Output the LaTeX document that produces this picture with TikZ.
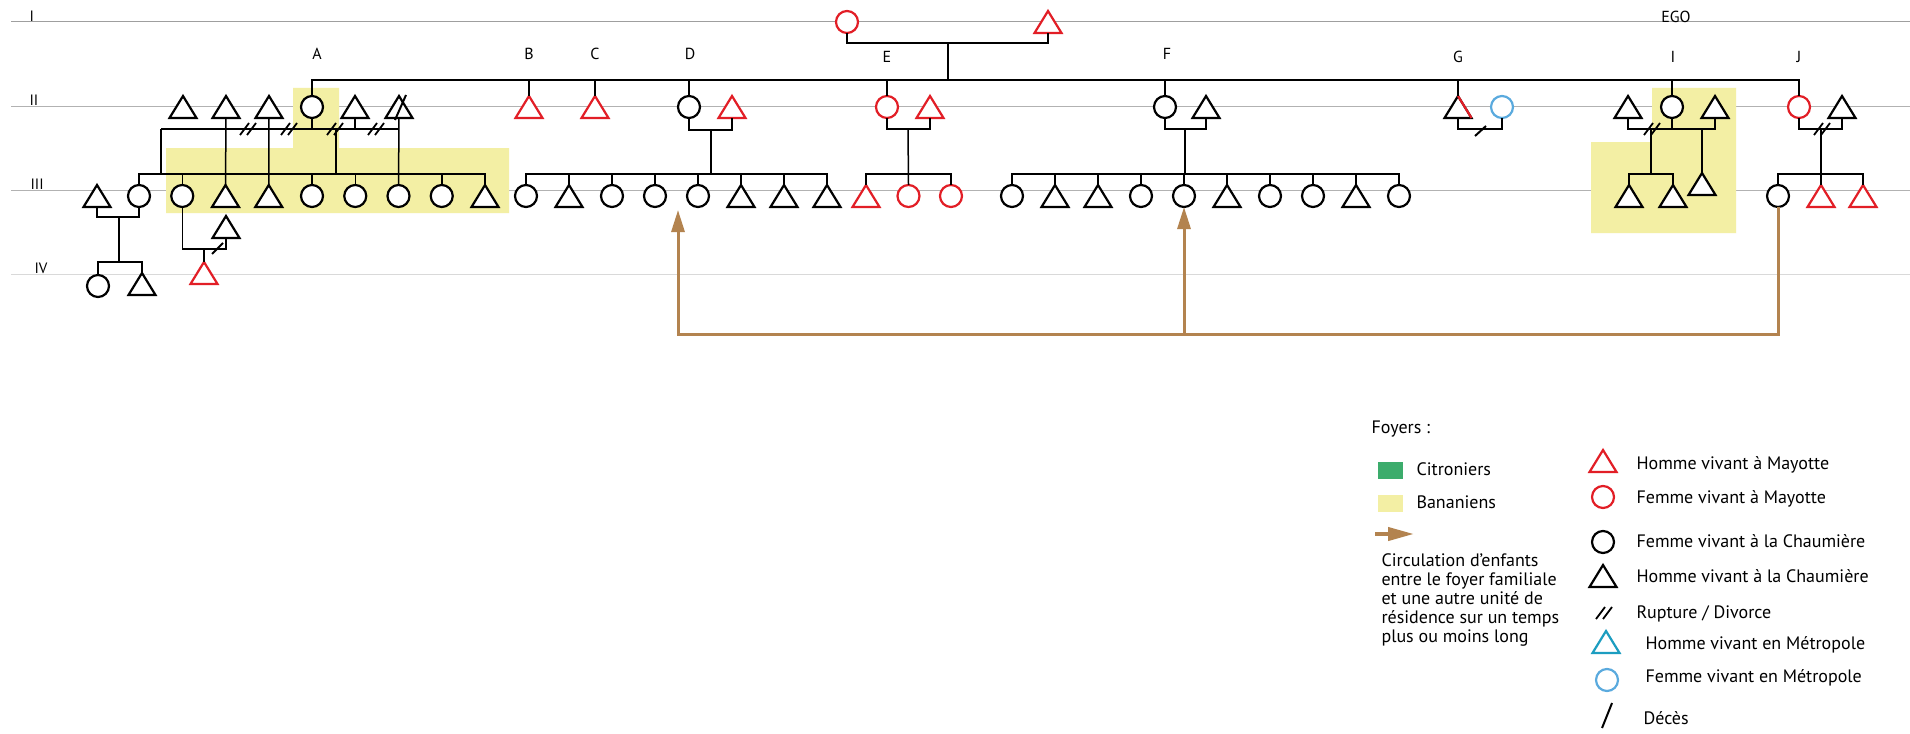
\documentclass[tikz,border=0pt]{standalone}
\usepackage{fontspec}
\setmainfont{PT Sans}
\usetikzlibrary{shapes.geometric,arrows.meta,calc}

\definecolor{rouge}{RGB}{226,30,38}
\definecolor{bleu}{RGB}{90,170,222}
\definecolor{turquoise}{RGB}{28,157,192}
\definecolor{vert}{RGB}{60,172,108}
\definecolor{banane}{RGB}{243,239,164}
\definecolor{brun}{RGB}{179,131,79}

\tikzset{
  homme/.style={isosceles triangle, shape border rotate=90,
    isosceles triangle stretches, minimum width=27pt, minimum height=22pt,
    inner sep=0pt, outer sep=0pt, draw, fill=white, line width=2.2pt,
    anchor=apex, yshift=11pt},
  femme/.style={circle, minimum size=22pt, inner sep=0pt, outer sep=0pt,
    draw, fill=white, line width=2.2pt},
  lien/.style={line width=1.5pt},
  gen/.style={line width=1pt},
  rang/.style={anchor=base west, font=\fontsize{15}{17}\selectfont},
  lettre/.style={anchor=base, font=\fontsize{16}{19}\selectfont},
  lib/.style={anchor=base west, font=\fontsize{18}{19}\selectfont},
  carre/.style={minimum width=25pt, minimum height=17pt, inner sep=0pt},
  barre/.style={line width=2pt},
  circul/.style={draw=brun, line width=3pt, -{Triangle[length=22pt,width=13pt]}},
  rupture/.pic={\draw[line width=1.8pt] (-8,6) -- (1,-6) (-1,6) -- (8,-6);}
}

\begin{document}
\begin{tikzpicture}[x=1pt,y=-1pt]
\useasboundingbox[fill=white] (0,0) rectangle (1910,733);

% generations
\draw[gen,gray!75] (11,22) -- (1910,22);
\draw[gen,gray!60] (11,107) -- (1910,107);
\draw[gen,gray!60] (11,190) -- (1910,190);
\draw[gen,gray!30] (11,274) -- (1910,274);
\node[rang] (rI) at (26,22) {I};
\node[rang] (rII) at (26,106) {II};
\node[rang] (rIII) at (27,189) {III};
\node[rang] (rIV) at (31,273) {IV};

% foyers bananiens
\fill[banane] (166,148) -- (293,148) -- (293,88) -- (339,88) -- (339,148)
  -- (509,148) -- (509,213) -- (166,213) -- cycle;
\fill[banane] (1652,88) -- (1736,88) -- (1736,233) -- (1591,233)
  -- (1591,142) -- (1652,142) -- cycle;

% generation I
\node[femme,draw=rouge] (gm) at (847,22) {};
\node[homme,draw=rouge] (gp) at (1048,22) {};
\node[lettre] (ego) at (1676,23) {EGO};

% generation II
\node[homme] (hA1) at (183,107) {};
\node[homme] (hA2) at (226,107) {};
\node[homme] (hA3) at (269,107) {};
\node[femme] (A) at (312,107) {};
\node[homme] (hA4) at (355,107) {};
\node[homme] (hA5) at (399,107) {};
\node[homme,draw=rouge] (B) at (529,107) {};
\node[homme,draw=rouge] (C) at (595,107) {};
\node[femme] (D) at (689,107) {};
\node[homme,draw=rouge] (hD) at (732,107) {};
\node[femme,draw=rouge] (E) at (887,107) {};
\node[homme,draw=rouge] (hE) at (930,107) {};
\node[femme] (F) at (1165,107) {};
\node[homme] (hF) at (1206,107) {};
\node[homme] (G) at (1458,107) {};
\node[femme,draw=bleu] (wG) at (1502,107) {};
\node[homme] (hI1) at (1628,107) {};
\node[femme] (I) at (1672,107) {};
\node[homme] (hI2) at (1715,107) {};
\node[femme,draw=rouge] (J) at (1799,107) {};
\node[homme] (hJ) at (1842,107) {};
\draw[rouge,line width=2.2pt] (G.apex) -- ($(G.apex)+(13.5,22)$);

\node[lettre] (lA) at (317,60) {A};
\node[lettre] (lB) at (529,60) {B};
\node[lettre] (lC) at (595,60) {C};
\node[lettre] (lD) at (690,60) {D};
\node[lettre] (lE) at (887,63) {E};
\node[lettre] (lF) at (1167,60) {F};
\node[lettre] (lG) at (1458,63) {G};
\node[lettre] (lI) at (1673,63) {I};
\node[lettre] (lJ) at (1799,63) {J};

% generation III
\node[homme] (p3) at (97,196) {};
\foreach \s [count=\n] in {femme,femme,homme,homme,femme,femme,femme,femme,homme}
  \node[\s] (kA\n) at ({139+43.25*(\n-1)},196) {};
\foreach \s [count=\n] in {femme,homme,femme,femme,femme,homme,homme,homme}
  \node[\s] (kD\n) at ({526+43*(\n-1)},196) {};
\foreach \s [count=\n] in {homme,femme,femme}
  \node[\s,draw=rouge] (kE\n) at ({866+42.5*(\n-1)},196) {};
\foreach \s [count=\n] in {femme,homme,homme,femme,femme,homme,femme,femme,homme,femme}
  \node[\s] (kF\n) at ({1012+43*(\n-1)},196) {};
\node[homme] (kI1) at (1629,196) {};
\node[homme] (kI2) at (1673,196) {};
\node[homme] (kI3) at (1702,184) {};
\node[femme] (kJ1) at (1778,196) {};
\node[homme,draw=rouge] (kJ2) at (1821,196) {};
\node[homme,draw=rouge] (kJ3) at (1863,196) {};
\node[homme] (sp) at (226,227) {};

% generation IV
\node[homme,draw=rouge] (r4) at (204,273) {};
\node[femme] (g4a) at (98,286) {};
\node[homme] (g4b) at (142,284) {};

% liens generation I
\coordinate (mI) at (948,43);
\coordinate (fr) at (948,80);
\draw[lien] (gm.south) |- (mI) -| (gp.south);
\draw[lien] (mI) -- (fr);
\draw[lien,line width=1.8pt] (A.north) |- (J.north |- fr) -- (J.north);
\foreach \s in {B,C,D,E,F,G,I}
  \draw[lien] (\s.north) -- (\s.north |- fr);

% famille A
\coordinate (mA) at (161,129);
\coordinate (dA) at (336,129);
\coordinate (cA) at (161,174);
\draw[lien] (mA) -- (hA5.south |- mA);
\draw[lien] (A.south) -- (A.south |- mA);
\draw[lien] (hA4.south) -- (hA4.south |- mA);
\draw[lien] (hA2.south) -- (kA3.north);
\draw[lien] (hA3.south) -- (kA4.north);
\draw[lien] (hA5.south) -- (kA7.north);
\draw[lien] (mA) -- (cA);
\draw[lien] (dA) -- (dA |- cA);
\draw[lien] (kA1.north) |- (kA9.north |- cA) -- (kA9.north);
\foreach \n in {2,5,6,8}
  \draw[lien] (kA\n.north) -- (kA\n.north |- cA);
\pic at (248,129) {rupture};
\pic at (289,129) {rupture};
\pic at (335,129) {rupture};
\pic at (376,129) {rupture};
\draw[barre] (395,120) -- (406,95);

\coordinate (mP) at (119,217);
\coordinate (cP) at (119,262);
\draw[lien] (p3.south) |- (mP) -| (kA1.south);
\draw[lien] (mP) -- (cP);
\draw[lien] (g4a.north) |- (cP) -| (g4b.north);
\coordinate (mS) at (204,249);
\draw[lien] (kA2.south) |- (mS) -| (sp.south);
\draw[lien] (mS) -- (r4.apex);
\draw[barre] (212,254) -- (223,243);

% famille D
\coordinate (mD) at (711,130);
\coordinate (cD) at (711,174);
\draw[lien] (D.south) |- (mD) -| (hD.south);
\draw[lien] (mD) -- (cD);
\draw[lien] (kD1.north) |- (kD8.north |- cD) -- (kD8.north);
\foreach \n in {2,...,7}
  \draw[lien] (kD\n.north) -- (kD\n.north |- cD);

% famille E
\coordinate (mE) at (908,129);
\coordinate (cE) at (908,174);
\draw[lien] (E.south) |- (mE) -| (hE.south);
\draw[lien] (mE) -- (kE2.north);
\draw[lien] (kE1.north) |- (kE3.north |- cE) -- (kE3.north);

% famille F
\coordinate (mF) at (1185,129);
\coordinate (cF) at (1185,174);
\draw[lien] (F.south) |- (mF) -| (hF.south);
\draw[lien] (mF) -- (cF);
\draw[lien] (kF1.north) |- (kF10.north |- cF) -- (kF10.north);
\foreach \n in {2,...,9}
  \draw[lien] (kF\n.north) -- (kF\n.north |- cF);

% famille G
\coordinate (mG) at (1480,129);
\draw[lien] (G.south) |- (mG) -| (wG.south);
\draw[barre] (1475,136) -- (1486,126);

% famille I
\coordinate (mI1) at (1651,129);
\coordinate (mI2) at (1702,129);
\coordinate (cI) at (1651,174);
\draw[lien] (hI1.south) |- (mI1) -| (hI2.south);
\draw[lien] (I.south) -- (I.south |- mI1);
\draw[lien] (mI1) -- (cI);
\draw[lien] (kI1.north) |- (cI) -| (kI2.north);
\draw[lien] (mI2) -- (kI3.north);
\pic at (1652,129) {rupture};

% famille J
\coordinate (mJ) at (1821,129);
\coordinate (cJ) at (1821,174);
\draw[lien] (J.south) |- (mJ) -| (hJ.south);
\draw[lien] (mJ) -- (kJ2.north);
\draw[lien] (kJ1.north) |- (kJ3.north |- cJ) -- (kJ3.north);
\pic at (1822,129) {rupture};

% circulation d'enfants
\coordinate (cL) at (678,334);
\coordinate (flA) at (678,210);
\draw[circul] (kJ1.south) |- (cL) -- (flA);
\draw[circul] (kF5.south |- cL) -- (kF5.south);

% legende
\node[lib] (tfoy) at (1368,433) {Foyers :};
\node[carre,fill=vert] (lcit) at (1390.5,470.5) {};
\node[lib] (tcit) at (1413,475) {Citroniers};
\node[carre,fill=banane] (lban) at (1390.5,503.5) {};
\node[lib] (tban) at (1413,508) {Bananiens};
\coordinate (lfl0) at (1375,534);
\coordinate (lfl1) at (1414,534);
\draw[circul,line width=4pt,-{Triangle[length=26pt,width=13pt]}] (lfl0) -- (lfl1);
\node[lib,align=left] (tcirc) at (1378,642) {Circulation d’enfants\\entre le foyer familiale\\et une autre unité de\\résidence sur un temps\\plus ou moins long};

\node[homme,draw=rouge] (lhm) at (1603,461) {};
\node[lib] (thm) at (1633,469) {Homme vivant à Mayotte};
\node[femme,draw=rouge] (lfm) at (1603,497) {};
\node[lib] (tfm) at (1633,503) {Femme vivant à Mayotte};
\node[femme] (lfc) at (1603,542) {};
\node[lib] (tfc) at (1633,547) {Femme vivant à la Chaumière};
\node[homme] (lhc) at (1603,576) {};
\node[lib] (thc) at (1633,582) {Homme vivant à la Chaumière};
\pic at (1604,613) {rupture};
\node[lib] (trup) at (1633,618) {Rupture / Divorce};
\node[homme,draw=turquoise] (lhmet) at (1606,642) {};
\node[lib] (thmet) at (1642,649) {Homme vivant en Métropole};
\node[femme,draw=bleu] (lfmet) at (1607,680) {};
\node[lib] (tfmet) at (1642,682) {Femme vivant en Métropole};
\coordinate (ld0) at (1602,728);
\coordinate (ld1) at (1612,703);
\draw[barre] (ld0) -- (ld1);
\node[lib] (tdec) at (1640,724) {Décès};
\end{tikzpicture}
\end{document}
